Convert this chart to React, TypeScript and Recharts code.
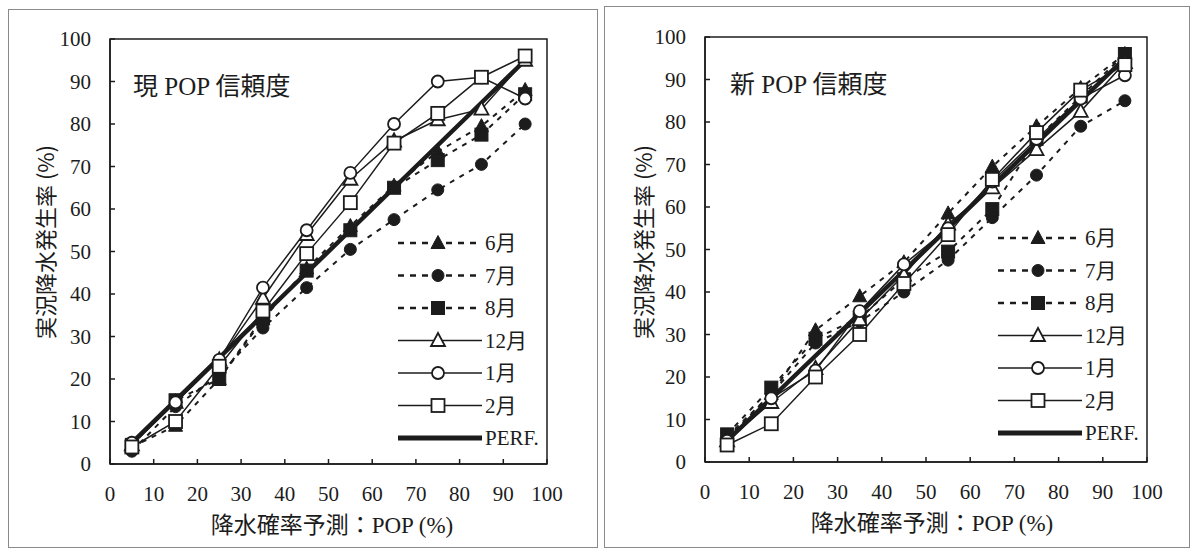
import * as React from "react";
import { LineChart, Line, XAxis, YAxis, ReferenceArea, Legend } from "recharts";

// forecast POP classes (x) and the perfect-reliability line
const popClasses = [5, 15, 25, 35, 45, 55, 65, 75, 85, 95];
const perfect = [5, 15, 25, 35, 45, 55, 65, 75, 85, 95];
const axisTicks = [0, 10, 20, 30, 40, 50, 60, 70, 80, 90, 100];

// 現 POP 信頼度 (current)
const curJun = [4, 9, 20, 34, 46, 56, 65.5, 73.5, 79.5, 88];
const curJul = [3, 13.5, 21, 32, 41.5, 50.5, 57.5, 64.5, 70.5, 80];
const curAug = [4.5, 15, 20, 34.5, 45.5, 55, 65, 71.5, 77.5, 87];
const curDec = [4.5, 14.5, 24.5, 39, 54, 67, 76, 81, 83.5, 95];
const curJan = [5, 14.5, 24.5, 41.5, 55, 68.5, 80, 90, 91, 86];
const curFeb = [4, 10, 23, 36, 49.5, 61.5, 75.5, 82.5, 91, 96];

// 新 POP 信頼度 (new)
const newJun = [6, 16, 31, 39, 47, 58.5, 69.5, 79, 88, 96];
const newJul = [5.5, 16, 28, 33, 40, 47.5, 57.5, 67.5, 79, 85];
const newAug = [6.5, 17.5, 29, 34, 43, 49.5, 59.5, 76, 86, 96];
const newDec = [5, 14, 22, 33.5, 44, 56, 64.5, 73.5, 82.5, 94];
const newJan = [5, 15, 21.5, 35.5, 46.5, 55, 66, 76, 85.5, 91];
const newFeb = [4, 9, 20, 30, 42, 53.5, 66.5, 77.5, 87.5, 93.5];

const INK = "#1c1c1c";
const SERIF = "'Times New Roman', 'Liberation Serif', 'DejaVu Serif', serif";
const JP = "'Noto Sans CJK JP', serif";
const TITLE = "'Times New Roman', 'Liberation Serif', 'Noto Sans CJK JP', serif";

type Shape = "tri" | "circle" | "square";
const SERIES: { key: string; name: string; shape: Shape; filled: boolean }[] = [
  { key: "jun", name: "6月", shape: "tri", filled: true },
  { key: "jul", name: "7月", shape: "circle", filled: true },
  { key: "aug", name: "8月", shape: "square", filled: true },
  { key: "dec", name: "12月", shape: "tri", filled: false },
  { key: "jan", name: "1月", shape: "circle", filled: false },
  { key: "feb", name: "2月", shape: "square", filled: false },
];

function buildRows(s: Record<string, number[]>) {
  return popClasses.map((p, i) => {
    const row: any = { pop: p, perf: perfect[i] };
    Object.keys(s).forEach((k) => (row[k] = s[k][i]));
    return row;
  });
}

const curRows = buildRows({ jun: curJun, jul: curJul, aug: curAug, dec: curDec, jan: curJan, feb: curFeb });
const newRows = buildRows({ jun: newJun, jul: newJul, aug: newAug, dec: newDec, jan: newJan, feb: newFeb });

function marker(shape: Shape, filled: boolean, x: number, y: number, key?: any) {
  const fill = filled ? INK : "#fff";
  const sw = filled ? 1 : 1.8;
  if (shape === "tri")
    return <polygon key={key} points={`${x},${y - 7.5} ${x - 7},${y + 5.5} ${x + 7},${y + 5.5}`} fill={fill} stroke={INK} strokeWidth={sw} />;
  if (shape === "circle") return <circle key={key} cx={x} cy={y} r={6} fill={fill} stroke={INK} strokeWidth={sw} />;
  return <rect key={key} x={x - 6.5} y={y - 6.5} width={13} height={13} fill={fill} stroke={INK} strokeWidth={sw} />;
}

function LegendBox() {
  const rows = [...SERIES.map((s) => ({ ...s, perf: false })), { key: "perf", name: "PERF.", shape: "square" as Shape, filled: false, perf: true }];
  return (
    <svg width={170} height={230} style={{ overflow: "visible" }}>
      {rows.map((r, i) => {
        const y = 16 + i * 32.5;
        return (
          <g key={r.key}>
            {r.perf ? (
              <line x1={0} x2={84} y1={y} y2={y} stroke={INK} strokeWidth={5} />
            ) : (
              <line x1={0} x2={84} y1={y} y2={y} stroke={INK} strokeWidth={r.filled ? 2.5 : 1.6} strokeDasharray={r.filled ? "6 6" : undefined} />
            )}
            {!r.perf && marker(r.shape, r.filled, 40, y)}
            <text x={87} y={y + 7} fontFamily={TITLE} fontSize={21} fill={INK}>{r.name}</text>
          </g>
        );
      })}
    </svg>
  );
}

function Panel({ rows, box, chart, plot, legend, title, titlePos, yTitle, xTitle }: any) {
  const mRight = chart.w - plot.left - plot.w;
  const mBottom = chart.h - plot.top - plot.h;
  const tick = { fontSize: 21, fill: INK, fontFamily: SERIF };
  return (
    <>
      <div style={{ position: "absolute", left: box.x, top: box.y, width: box.w, height: box.h, border: "1.5px solid #8a8a8a", boxSizing: "border-box" }} />
      <div style={{ position: "absolute", left: chart.x, top: chart.y }}>
        <LineChart width={chart.w} height={chart.h} data={rows} margin={{ top: plot.top, right: mRight, bottom: mBottom - 60, left: 0 }}>
          <XAxis dataKey="pop" type="number" domain={[0, 100]} ticks={axisTicks} allowDataOverflow height={60}
            tick={tick} tickSize={-5} tickMargin={27} stroke={INK} strokeWidth={1.5} interval={0} />
          <YAxis type="number" domain={[0, 100]} ticks={axisTicks} width={plot.left} allowDataOverflow
            tick={tick} tickSize={-5} tickMargin={24} stroke={INK} strokeWidth={1.5} interval={0} />
          <ReferenceArea x1={0} x2={100} y1={0} y2={100} fill="none" stroke={INK} strokeWidth={1.5} ifOverflow="visible" />
          <Line dataKey="perf" name="PERF." stroke={INK} strokeWidth={4.5} dot={false} isAnimationActive={false} />
          {SERIES.map((s) => (
            <Line key={s.key} dataKey={s.key} name={s.name} stroke={INK}
              strokeWidth={s.filled ? 2 : 1.5} strokeDasharray={s.filled ? "5 6" : undefined}
              isAnimationActive={false}
              dot={(p: any) => marker(s.shape, s.filled, p.cx, p.cy, `${s.key}-${p.index}`)} />
          ))}
          <Legend layout="horizontal" verticalAlign="middle" align="center" content={() => <LegendBox />}
            wrapperStyle={{ left: legend.x, top: legend.y, width: 170, height: 230 }} />
        </LineChart>
      </div>
      <div style={{ position: "absolute", left: titlePos.x, top: titlePos.y, transform: "translateY(-50%)", fontFamily: TITLE, fontSize: 25, color: INK, whiteSpace: "nowrap" }}>
        {title}
      </div>
      <div style={{ position: "absolute", left: yTitle.x, top: yTitle.y, transform: "translate(-50%, -50%) rotate(-90deg)", fontFamily: JP, fontSize: 22, color: INK, whiteSpace: "nowrap" }}>
        実況降水発生率 (%)
      </div>
      <div style={{ position: "absolute", left: xTitle.x, top: xTitle.y, transform: "translate(-50%, -50%)", fontFamily: TITLE, fontSize: 23, color: INK, whiteSpace: "nowrap" }}>
        降水確率予測：POP (%)
      </div>
    </>
  );
}

export default function App() {
  return (
    <div style={{ position: "absolute", left: 0, top: 0, width: 1196, height: 553, background: "#fff", overflow: "hidden" }}>
      <Panel rows={curRows}
        box={{ x: 8, y: 9, w: 590, h: 539 }}
        chart={{ x: 9, y: 10, w: 588, h: 536 }}
        plot={{ left: 101, top: 29, w: 437, h: 425 }}
        legend={{ x: 389, y: 217 }}
        title="現 POP 信頼度" titlePos={{ x: 133, y: 84 }}
        yTitle={{ x: 44, y: 242 }} xTitle={{ x: 332, y: 523 }} />
      <Panel rows={newRows}
        box={{ x: 604, y: 6, w: 586, h: 542 }}
        chart={{ x: 605, y: 7, w: 584, h: 540 }}
        plot={{ left: 100, top: 30, w: 442, h: 425 }}
        legend={{ x: 393, y: 215 }}
        title="新 POP 信頼度" titlePos={{ x: 730, y: 82 }}
        yTitle={{ x: 642, y: 242 }} xTitle={{ x: 932, y: 521 }} />
    </div>
  );
}
